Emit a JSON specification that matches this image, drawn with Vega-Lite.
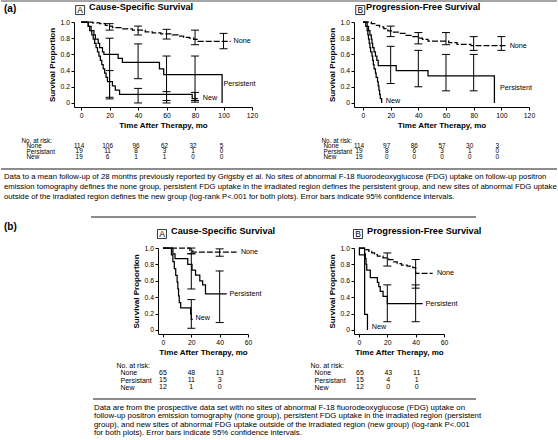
{
  "$schema": "https://vega.github.io/schema/vega-lite/v6.json",
  "padding": 0,
  "spacing": 0,
  "config": {
    "font": "Liberation Sans",
    "view": {"stroke": null},
    "concat": {"spacing": 0},
    "axis": {"labelFont": "Liberation Sans", "titleFont": "Liberation Sans", "labelFontSize": 6.8, "titleFontSize": 8, "titleFontWeight": "bold", "domainColor": "black", "tickColor": "black", "labelColor": "black", "titleColor": "black", "grid": false, "domainWidth": 1, "tickWidth": 1, "labelOverlap": false, "labelBound": false, "labelFlush": false},
    "text": {"font": "Liberation Sans", "color": "black", "fill": "black"},
    "title": {"font": "Liberation Sans", "color": "black", "anchor": "start", "frame": "group", "baseline": "alphabetic", "fontWeight": "bold"}
  },
  "datasets": {
    "curves": [
      {"panel":"aA","group":"None","t":0,"s":1},{"panel":"aA","group":"None","t":8,"s":0.99},{"panel":"aA","group":"None","t":13,"s":0.98},{"panel":"aA","group":"None","t":17,"s":0.96},{"panel":"aA","group":"None","t":20,"s":0.95},{"panel":"aA","group":"None","t":22,"s":0.93},{"panel":"aA","group":"None","t":28,"s":0.915},{"panel":"aA","group":"None","t":36,"s":0.9},{"panel":"aA","group":"None","t":45,"s":0.88},{"panel":"aA","group":"None","t":50,"s":0.865},{"panel":"aA","group":"None","t":56,"s":0.855},{"panel":"aA","group":"None","t":64,"s":0.84},{"panel":"aA","group":"None","t":68,"s":0.825},{"panel":"aA","group":"None","t":72,"s":0.81},{"panel":"aA","group":"None","t":76,"s":0.8},{"panel":"aA","group":"None","t":79,"s":0.785},{"panel":"aA","group":"None","t":82,"s":0.76},{"panel":"aA","group":"None","t":105,"s":0.76},
      {"panel":"aA","group":"Persistent","t":0,"s":1},{"panel":"aA","group":"Persistent","t":5,"s":0.947},{"panel":"aA","group":"Persistent","t":7,"s":0.895},{"panel":"aA","group":"Persistent","t":9,"s":0.842},{"panel":"aA","group":"Persistent","t":10,"s":0.789},{"panel":"aA","group":"Persistent","t":12,"s":0.737},{"panel":"aA","group":"Persistent","t":13,"s":0.684},{"panel":"aA","group":"Persistent","t":15,"s":0.632},{"panel":"aA","group":"Persistent","t":16,"s":0.6},{"panel":"aA","group":"Persistent","t":26,"s":0.55},{"panel":"aA","group":"Persistent","t":29,"s":0.5},{"panel":"aA","group":"Persistent","t":55,"s":0.42},{"panel":"aA","group":"Persistent","t":58,"s":0.35},{"panel":"aA","group":"Persistent","t":99,"s":0},
      {"panel":"aA","group":"New","t":0,"s":1},{"panel":"aA","group":"New","t":5,"s":0.947},{"panel":"aA","group":"New","t":6,"s":0.895},{"panel":"aA","group":"New","t":7.5,"s":0.842},{"panel":"aA","group":"New","t":8.5,"s":0.789},{"panel":"aA","group":"New","t":9.5,"s":0.737},{"panel":"aA","group":"New","t":10.5,"s":0.684},{"panel":"aA","group":"New","t":11.5,"s":0.632},{"panel":"aA","group":"New","t":12.5,"s":0.579},{"panel":"aA","group":"New","t":13.5,"s":0.526},{"panel":"aA","group":"New","t":14.5,"s":0.474},{"panel":"aA","group":"New","t":15.5,"s":0.421},{"panel":"aA","group":"New","t":16.5,"s":0.368},{"panel":"aA","group":"New","t":17.5,"s":0.316},{"panel":"aA","group":"New","t":18.5,"s":0.263},{"panel":"aA","group":"New","t":22,"s":0.211},{"panel":"aA","group":"New","t":24,"s":0.158},{"panel":"aA","group":"New","t":27,"s":0.105},{"panel":"aA","group":"New","t":78,"s":0.053},{"panel":"aA","group":"New","t":82,"s":0.053},
      {"panel":"aB","group":"None","t":0,"s":1},{"panel":"aB","group":"None","t":6,"s":0.98},{"panel":"aB","group":"None","t":9,"s":0.96},{"panel":"aB","group":"None","t":12,"s":0.94},{"panel":"aB","group":"None","t":15,"s":0.92},{"panel":"aB","group":"None","t":18,"s":0.89},{"panel":"aB","group":"None","t":22,"s":0.875},{"panel":"aB","group":"None","t":27,"s":0.86},{"panel":"aB","group":"None","t":31,"s":0.835},{"panel":"aB","group":"None","t":36,"s":0.82},{"panel":"aB","group":"None","t":40,"s":0.8},{"panel":"aB","group":"None","t":43,"s":0.785},{"panel":"aB","group":"None","t":47,"s":0.765},{"panel":"aB","group":"None","t":62,"s":0.745},{"panel":"aB","group":"None","t":68,"s":0.725},{"panel":"aB","group":"None","t":78,"s":0.71},{"panel":"aB","group":"None","t":103,"s":0.71},
      {"panel":"aB","group":"Persistent","t":0,"s":1},{"panel":"aB","group":"Persistent","t":3,"s":0.947},{"panel":"aB","group":"Persistent","t":4,"s":0.895},{"panel":"aB","group":"Persistent","t":5,"s":0.842},{"panel":"aB","group":"Persistent","t":6,"s":0.789},{"panel":"aB","group":"Persistent","t":6.5,"s":0.737},{"panel":"aB","group":"Persistent","t":7,"s":0.684},{"panel":"aB","group":"Persistent","t":8,"s":0.632},{"panel":"aB","group":"Persistent","t":9,"s":0.579},{"panel":"aB","group":"Persistent","t":10,"s":0.526},{"panel":"aB","group":"Persistent","t":11,"s":0.46},{"panel":"aB","group":"Persistent","t":24,"s":0.4},{"panel":"aB","group":"Persistent","t":47,"s":0.335},{"panel":"aB","group":"Persistent","t":95,"s":0},
      {"panel":"aB","group":"New","t":0,"s":1},{"panel":"aB","group":"New","t":2,"s":0.947},{"panel":"aB","group":"New","t":3,"s":0.895},{"panel":"aB","group":"New","t":3.5,"s":0.842},{"panel":"aB","group":"New","t":4,"s":0.789},{"panel":"aB","group":"New","t":4.5,"s":0.737},{"panel":"aB","group":"New","t":5,"s":0.684},{"panel":"aB","group":"New","t":5.5,"s":0.632},{"panel":"aB","group":"New","t":6.5,"s":0.579},{"panel":"aB","group":"New","t":7,"s":0.526},{"panel":"aB","group":"New","t":7.5,"s":0.474},{"panel":"aB","group":"New","t":8,"s":0.421},{"panel":"aB","group":"New","t":9,"s":0.368},{"panel":"aB","group":"New","t":9.5,"s":0.316},{"panel":"aB","group":"New","t":10.5,"s":0.263},{"panel":"aB","group":"New","t":11,"s":0.211},{"panel":"aB","group":"New","t":11.5,"s":0.158},{"panel":"aB","group":"New","t":12,"s":0.105},{"panel":"aB","group":"New","t":12.5,"s":0.053},{"panel":"aB","group":"New","t":13.5,"s":0},
      {"panel":"bA","group":"None","t":0,"s":1},{"panel":"bA","group":"None","t":19,"s":0.97},{"panel":"bA","group":"None","t":21,"s":0.95},{"panel":"bA","group":"None","t":52,"s":0.95},
      {"panel":"bA","group":"Persistent","t":0,"s":1},{"panel":"bA","group":"Persistent","t":7,"s":0.93},{"panel":"bA","group":"Persistent","t":8.5,"s":0.87},{"panel":"bA","group":"Persistent","t":17.5,"s":0.8},{"panel":"bA","group":"Persistent","t":20.5,"s":0.73},{"panel":"bA","group":"Persistent","t":23,"s":0.67},{"panel":"bA","group":"Persistent","t":26,"s":0.6},{"panel":"bA","group":"Persistent","t":28,"s":0.55},{"panel":"bA","group":"Persistent","t":30,"s":0.44},{"panel":"bA","group":"Persistent","t":45,"s":0.44},
      {"panel":"bA","group":"New","t":0,"s":1},{"panel":"bA","group":"New","t":6,"s":0.917},{"panel":"bA","group":"New","t":7,"s":0.833},{"panel":"bA","group":"New","t":8,"s":0.75},{"panel":"bA","group":"New","t":9,"s":0.667},{"panel":"bA","group":"New","t":10,"s":0.583},{"panel":"bA","group":"New","t":10.5,"s":0.5},{"panel":"bA","group":"New","t":11,"s":0.417},{"panel":"bA","group":"New","t":11.5,"s":0.333},{"panel":"bA","group":"New","t":12.5,"s":0.27},{"panel":"bA","group":"New","t":19.5,"s":0.2},{"panel":"bA","group":"New","t":20,"s":0.13},{"panel":"bA","group":"New","t":21,"s":0.13},
      {"panel":"bB","group":"None","t":0,"s":1},{"panel":"bB","group":"None","t":5,"s":0.98},{"panel":"bB","group":"None","t":7,"s":0.96},{"panel":"bB","group":"None","t":9,"s":0.94},{"panel":"bB","group":"None","t":11,"s":0.92},{"panel":"bB","group":"None","t":13,"s":0.9},{"panel":"bB","group":"None","t":17,"s":0.88},{"panel":"bB","group":"None","t":21,"s":0.86},{"panel":"bB","group":"None","t":24,"s":0.83},{"panel":"bB","group":"None","t":27,"s":0.81},{"panel":"bB","group":"None","t":30,"s":0.79},{"panel":"bB","group":"None","t":34,"s":0.78},{"panel":"bB","group":"None","t":38,"s":0.76},{"panel":"bB","group":"None","t":40,"s":0.69},{"panel":"bB","group":"None","t":52,"s":0.69},
      {"panel":"bB","group":"Persistent","t":0,"s":1},{"panel":"bB","group":"Persistent","t":4,"s":0.93},{"panel":"bB","group":"Persistent","t":4.5,"s":0.87},{"panel":"bB","group":"Persistent","t":5,"s":0.8},{"panel":"bB","group":"Persistent","t":5.5,"s":0.73},{"panel":"bB","group":"Persistent","t":8,"s":0.64},{"panel":"bB","group":"Persistent","t":13,"s":0.58},{"panel":"bB","group":"Persistent","t":14,"s":0.53},{"panel":"bB","group":"Persistent","t":15,"s":0.47},{"panel":"bB","group":"Persistent","t":17,"s":0.41},{"panel":"bB","group":"Persistent","t":20,"s":0.32},{"panel":"bB","group":"Persistent","t":45,"s":0.32},
      {"panel":"bB","group":"New","t":0,"s":1},{"panel":"bB","group":"New","t":0.3,"s":0.917},{"panel":"bB","group":"New","t":4,"s":0.19},{"panel":"bB","group":"New","t":6,"s":0}
    ],
    "bars": [
      {"panel":"aA","group":"None","t":20,"lo":0.9,"hi":0.98},{"panel":"aA","group":"None","t":40,"lo":0.84,"hi":0.95},{"panel":"aA","group":"None","t":60,"lo":0.79,"hi":0.91},{"panel":"aA","group":"None","t":80,"lo":0.72,"hi":0.9},{"panel":"aA","group":"None","t":100,"lo":0.67,"hi":0.86},
      {"panel":"aA","group":"Persistent","t":20,"lo":0.05,"hi":0.8},{"panel":"aA","group":"Persistent","t":40,"lo":0.3,"hi":0.73},{"panel":"aA","group":"Persistent","t":60,"lo":0.03,"hi":0.58},{"panel":"aA","group":"Persistent","t":80,"lo":0.03,"hi":0.58},
      {"panel":"aA","group":"New","t":20,"lo":0.07,"hi":0.4},{"panel":"aA","group":"New","t":40,"lo":0,"hi":0.18},{"panel":"aA","group":"New","t":60,"lo":0,"hi":0.14},{"panel":"aA","group":"New","t":80,"lo":0.01,"hi":0.13},
      {"panel":"aB","group":"None","t":20,"lo":0.82,"hi":0.95},{"panel":"aB","group":"None","t":40,"lo":0.73,"hi":0.87},{"panel":"aB","group":"None","t":60,"lo":0.72,"hi":0.87},{"panel":"aB","group":"None","t":80,"lo":0.65,"hi":0.82},{"panel":"aB","group":"None","t":100,"lo":0.65,"hi":0.82},
      {"panel":"aB","group":"Persistent","t":20,"lo":0.24,"hi":0.7},{"panel":"aB","group":"Persistent","t":40,"lo":0.2,"hi":0.65},{"panel":"aB","group":"Persistent","t":60,"lo":0.15,"hi":0.6},{"panel":"aB","group":"Persistent","t":80,"lo":0.15,"hi":0.6},
      {"panel":"bA","group":"None","t":20,"lo":0.93,"hi":1},{"panel":"bA","group":"None","t":40,"lo":0.9,"hi":0.99},
      {"panel":"bA","group":"Persistent","t":20,"lo":0.5,"hi":0.93},{"panel":"bA","group":"Persistent","t":40,"lo":0.09,"hi":0.72},
      {"panel":"bA","group":"New","t":20,"lo":0.02,"hi":0.37},
      {"panel":"bB","group":"None","t":20,"lo":0.78,"hi":0.94},{"panel":"bB","group":"None","t":40,"lo":0.51,"hi":0.86},
      {"panel":"bB","group":"Persistent","t":20,"lo":0.1,"hi":0.55},{"panel":"bB","group":"Persistent","t":40,"lo":0.1,"hi":0.55}
    ],
    "labels": [
      {"panel":"aA","label":"None","t":107,"s":0.76},{"panel":"aA","label":"Persistent","t":100,"s":0.235},{"panel":"aA","label":"New","t":85.5,"s":0.058},
      {"panel":"aB","label":"None","t":106,"s":0.71},{"panel":"aB","label":"Persistent","t":99,"s":0.185},{"panel":"aB","label":"New","t":16.5,"s":0.02},
      {"panel":"bA","label":"None","t":55,"s":0.95},{"panel":"bA","label":"Persistent","t":47,"s":0.44},{"panel":"bA","label":"New","t":23,"s":0.146},
      {"panel":"bB","label":"None","t":55,"s":0.69},{"panel":"bB","label":"Persistent","t":47,"s":0.32},{"panel":"bB","label":"New","t":9,"s":0.04}
    ],
    "boxes": [
      {"panel":"aA","letter":"A","t":-0.7,"s":1.148},
      {"panel":"aB","letter":"B","t":-2,"s":1.148},
      {"panel":"bA","letter":"A","t":-0.7,"s":1.171},
      {"panel":"bB","letter":"B","t":-0.7,"s":1.171}
    ],
    "risk": [
      {"panel":"aA","group":"None","t":0,"n":114},{"panel":"aA","group":"None","t":20,"n":106},{"panel":"aA","group":"None","t":40,"n":96},{"panel":"aA","group":"None","t":60,"n":62},{"panel":"aA","group":"None","t":80,"n":32},{"panel":"aA","group":"None","t":100,"n":5},
      {"panel":"aA","group":"Persistant","t":0,"n":19},{"panel":"aA","group":"Persistant","t":20,"n":11},{"panel":"aA","group":"Persistant","t":40,"n":8},{"panel":"aA","group":"Persistant","t":60,"n":3},{"panel":"aA","group":"Persistant","t":80,"n":1},{"panel":"aA","group":"Persistant","t":100,"n":0},
      {"panel":"aA","group":"New","t":0,"n":19},{"panel":"aA","group":"New","t":20,"n":6},{"panel":"aA","group":"New","t":40,"n":1},{"panel":"aA","group":"New","t":60,"n":1},{"panel":"aA","group":"New","t":80,"n":0},{"panel":"aA","group":"New","t":100,"n":0},
      {"panel":"aB","group":"None","t":0,"n":114},{"panel":"aB","group":"None","t":20,"n":97},{"panel":"aB","group":"None","t":40,"n":86},{"panel":"aB","group":"None","t":60,"n":57},{"panel":"aB","group":"None","t":80,"n":30},{"panel":"aB","group":"None","t":100,"n":3},
      {"panel":"aB","group":"Persistant","t":0,"n":19},{"panel":"aB","group":"Persistant","t":20,"n":8},{"panel":"aB","group":"Persistant","t":40,"n":6},{"panel":"aB","group":"Persistant","t":60,"n":3},{"panel":"aB","group":"Persistant","t":80,"n":1},{"panel":"aB","group":"Persistant","t":100,"n":0},
      {"panel":"aB","group":"New","t":0,"n":19},{"panel":"aB","group":"New","t":20,"n":0},{"panel":"aB","group":"New","t":40,"n":0},{"panel":"aB","group":"New","t":60,"n":0},{"panel":"aB","group":"New","t":80,"n":0},{"panel":"aB","group":"New","t":100,"n":0},
      {"panel":"bA","group":"None","t":0,"n":65},{"panel":"bA","group":"None","t":20,"n":48},{"panel":"bA","group":"None","t":40,"n":13},
      {"panel":"bA","group":"Persistant","t":0,"n":15},{"panel":"bA","group":"Persistant","t":20,"n":11},{"panel":"bA","group":"Persistant","t":40,"n":3},
      {"panel":"bA","group":"New","t":0,"n":12},{"panel":"bA","group":"New","t":20,"n":1},{"panel":"bA","group":"New","t":40,"n":0},
      {"panel":"bB","group":"None","t":0,"n":65},{"panel":"bB","group":"None","t":20,"n":43},{"panel":"bB","group":"None","t":40,"n":11},
      {"panel":"bB","group":"Persistant","t":0,"n":15},{"panel":"bB","group":"Persistant","t":20,"n":4},{"panel":"bB","group":"Persistant","t":40,"n":1},
      {"panel":"bB","group":"New","t":0,"n":12},{"panel":"bB","group":"New","t":20,"n":0},{"panel":"bB","group":"New","t":40,"n":0}
    ],
    "captionA": [
      {"line":1,"text":"Data to a mean follow-up of 28 months previously reported by Grigsby et al. No sites of abnormal F-18 fluorodeoxyglucose (FDG) uptake on follow-up positron"},
      {"line":2,"text":"emission tomography defines the none group, persistent FDG uptake in the irradiated region defines the persistent group, and new sites of abnormal FDG uptake"},
      {"line":3,"text":"outside of the irradiated region defines the new group (log-rank P<.001 for both plots).  Error bars indicate 95% confidence intervals."}
    ],
    "captionB": [
      {"line":1,"text":"Data are from the prospective data set with no sites of abnormal F-18 fluorodeoxyglucose (FDG) uptake on"},
      {"line":2,"text":"follow-up positron emission tomography (none group), persistent FDG uptake in the irradiated region (persistent"},
      {"line":3,"text":"group), and new sites of abnormal FDG uptake outside of the irradiated region (new group) (log-rank P<.001"},
      {"line":4,"text":"for both plots).  Error bars indicate 95% confidence intervals."}
    ],
    "one": [{"k":0}]
  },
  "vconcat": [
    {
      "width": 556, "height": 1.5,
      "data": {"name": "one"},
      "mark": {"type": "rule", "color": "#888", "strokeWidth": 1.5},
      "encoding": {"y": {"datum": 1, "type": "quantitative", "scale": {"domain": [0, 1], "nice": false, "zero": false}, "axis": null}}
    },
    {
      "hconcat": [
        {"width": 73, "height": 114.75, "title": {"text": "(a)", "dx": 3, "offset": 8.5, "fontSize": 10}, "data": {"name": "one"}, "mark": {"type": "point", "opacity": 0}, "encoding": {}},
        {
          "width": 178, "height": 85,
          "title": {"text": "Cause-Specific Survival", "dx": 15, "offset": -8.4, "fontSize": 9.2},
          "encoding": {"x": {"field": "t", "type": "quantitative", "scale": {"domain": [-5, 120], "nice": false, "zero": false}, "axis": {"values": [0, 20, 40, 60, 80, 100, 120], "tickCount": 20, "title": "Time After Therapy, mo", "tickSize": 3, "labelPadding": 2, "titlePadding": 3, "labelOverlap": false}}},
          "layer": [
            {"data": {"name": "curves"}, "transform": [{"filter": "datum.panel == 'aA'"}], "mark": {"type": "line", "interpolate": "step-after", "color": "black", "strokeWidth": 1.25},
             "encoding": {"y": {"field": "s", "type": "quantitative", "scale": {"domain": [-0.05, 1.0005], "nice": false, "zero": false}, "axis": {"title": "Survival Proportion", "values": [0, 0.2, 0.4, 0.6, 0.8, 1], "tickCount": 20, "labelExpr": "datum.value == 0 ? '0' : format(datum.value, '.1f')", "tickSize": 3, "labelPadding": 1.5, "titlePadding": 4, "labelOverlap": false}},
              "strokeDash": {"field": "group", "type": "nominal", "scale": {"domain": ["None", "Persistent", "New"], "range": [[6, 2], [1, 0], [1, 0]]}, "legend": null}}},
            {"data": {"name": "bars"}, "transform": [{"filter": "datum.panel == 'aA'"}], "mark": {"type": "rule", "color": "black", "strokeWidth": 1},
             "encoding": {"y": {"field": "lo", "type": "quantitative"}, "y2": {"field": "hi"}}},
            {"data": {"name": "bars"}, "transform": [{"filter": "datum.panel == 'aA'"}], "mark": {"type": "tick", "orient": "horizontal", "size": 8, "thickness": 1, "color": "black", "opacity": 1},
             "encoding": {"y": {"field": "lo", "type": "quantitative"}}},
            {"data": {"name": "bars"}, "transform": [{"filter": "datum.panel == 'aA'"}], "mark": {"type": "tick", "orient": "horizontal", "size": 8, "thickness": 1, "color": "black", "opacity": 1},
             "encoding": {"y": {"field": "hi", "type": "quantitative"}}},
            {"data": {"name": "labels"}, "transform": [{"filter": "datum.panel == 'aA'"}], "mark": {"type": "text", "align": "left", "baseline": "middle", "fontSize": 7.2, "color": "black"},
             "encoding": {"y": {"field": "s", "type": "quantitative"}, "text": {"field": "label"}}},
            {"data": {"name": "boxes"}, "transform": [{"filter": "datum.panel == 'aA'"}], "mark": {"type": "point", "shape": "square", "size": 81, "filled": false, "color": "black", "strokeWidth": 0.8, "opacity": 1},
             "encoding": {"y": {"field": "s", "type": "quantitative"}}},
            {"data": {"name": "boxes"}, "transform": [{"filter": "datum.panel == 'aA'"}], "mark": {"type": "text", "fontSize": 8.5, "baseline": "middle", "align": "center", "color": "black"},
             "encoding": {"y": {"field": "s", "type": "quantitative"}, "text": {"field": "letter"}}}
          ]
        },
        {"width": 102, "height": 10, "data": {"name": "one"}, "mark": {"type": "point", "opacity": 0}, "encoding": {}},
        {
          "width": 175, "height": 85,
          "title": {"text": "Progression-Free Survival", "dx": 12, "offset": -8.4, "fontSize": 9.2},
          "encoding": {"x": {"field": "t", "type": "quantitative", "scale": {"domain": [-6.5, 120], "nice": false, "zero": false}, "axis": {"values": [0, 20, 40, 60, 80, 100, 120], "tickCount": 20, "title": "Time After Therapy, mo", "tickSize": 3, "labelPadding": 2, "titlePadding": 3, "labelOverlap": false}}},
          "layer": [
            {"data": {"name": "curves"}, "transform": [{"filter": "datum.panel == 'aB'"}], "mark": {"type": "line", "interpolate": "step-after", "color": "black", "strokeWidth": 1.25},
             "encoding": {"y": {"field": "s", "type": "quantitative", "scale": {"domain": [-0.05, 1.0005], "nice": false, "zero": false}, "axis": {"title": "Survival Proportion", "values": [0, 0.2, 0.4, 0.6, 0.8, 1], "tickCount": 20, "labelExpr": "datum.value == 0 ? '0' : format(datum.value, '.1f')", "tickSize": 3, "labelPadding": 1.5, "titlePadding": 4, "labelOverlap": false}},
              "strokeDash": {"field": "group", "type": "nominal", "scale": {"domain": ["None", "Persistent", "New"], "range": [[6, 2], [1, 0], [1, 0]]}, "legend": null}}},
            {"data": {"name": "bars"}, "transform": [{"filter": "datum.panel == 'aB'"}], "mark": {"type": "rule", "color": "black", "strokeWidth": 1},
             "encoding": {"y": {"field": "lo", "type": "quantitative"}, "y2": {"field": "hi"}}},
            {"data": {"name": "bars"}, "transform": [{"filter": "datum.panel == 'aB'"}], "mark": {"type": "tick", "orient": "horizontal", "size": 8, "thickness": 1, "color": "black", "opacity": 1},
             "encoding": {"y": {"field": "lo", "type": "quantitative"}}},
            {"data": {"name": "bars"}, "transform": [{"filter": "datum.panel == 'aB'"}], "mark": {"type": "tick", "orient": "horizontal", "size": 8, "thickness": 1, "color": "black", "opacity": 1},
             "encoding": {"y": {"field": "hi", "type": "quantitative"}}},
            {"data": {"name": "labels"}, "transform": [{"filter": "datum.panel == 'aB'"}], "mark": {"type": "text", "align": "left", "baseline": "middle", "fontSize": 7.2, "color": "black"},
             "encoding": {"y": {"field": "s", "type": "quantitative"}, "text": {"field": "label"}}},
            {"data": {"name": "boxes"}, "transform": [{"filter": "datum.panel == 'aB'"}], "mark": {"type": "point", "shape": "square", "size": 81, "filled": false, "color": "black", "strokeWidth": 0.8, "opacity": 1},
             "encoding": {"y": {"field": "s", "type": "quantitative"}}},
            {"data": {"name": "boxes"}, "transform": [{"filter": "datum.panel == 'aB'"}], "mark": {"type": "text", "fontSize": 8.5, "baseline": "middle", "align": "center", "color": "black"},
             "encoding": {"y": {"field": "s", "type": "quantitative"}, "text": {"field": "letter"}}}
          ]
        }
      ],
      "bounds": "flush", "spacing": 0
    },
    {
      "hconcat": [
        {"width": 73, "height": 25, "data": {"name": "one"}, "mark": {"type": "point", "opacity": 0}, "encoding": {}},
        {"width": 178, "height": 16.5, "data": {"name": "risk"}, "transform": [{"filter": "datum.panel == 'aA'"}],
         "mark": {"type": "text", "fontSize": 6.4, "dx": -2, "color": "black"},
         "encoding": {"x": {"field": "t", "type": "quantitative", "scale": {"domain": [-5, 120], "nice": false, "zero": false}, "axis": null},
                      "y": {"field": "group", "type": "nominal", "sort": ["None", "Persistant", "New"], "axis": {"domain": false, "ticks": false, "tickSize": 0, "labelAlign": "left", "labelPadding": 48, "labelFontSize": 6.4, "title": "No. at risk:", "titleAngle": 0, "titleAlign": "left", "titleBaseline": "middle", "titleFontWeight": "normal", "titleFontSize": 6.4, "titleX": -53, "titleY": -3}},
                      "text": {"field": "n"}}},
        {"width": 102, "height": 5, "data": {"name": "one"}, "mark": {"type": "point", "opacity": 0}, "encoding": {}},
        {"width": 175, "height": 16.5, "data": {"name": "risk"}, "transform": [{"filter": "datum.panel == 'aB'"}],
         "mark": {"type": "text", "fontSize": 6.4, "dx": -4, "color": "black"},
         "encoding": {"x": {"field": "t", "type": "quantitative", "scale": {"domain": [-6.5, 120], "nice": false, "zero": false}, "axis": null},
                      "y": {"field": "group", "type": "nominal", "sort": ["None", "Persistant", "New"], "axis": {"domain": false, "ticks": false, "tickSize": 0, "labelAlign": "left", "labelPadding": 31, "labelFontSize": 6.4, "title": "No. at risk:", "titleAngle": 0, "titleAlign": "left", "titleBaseline": "middle", "titleFontWeight": "normal", "titleFontSize": 6.4, "titleX": -33, "titleY": -3}},
                      "text": {"field": "n"}}}
      ],
      "bounds": "flush", "spacing": 0
    },
    {
      "width": 556, "height": 45.25,
      "layer": [
        {"data": {"name": "one"}, "mark": {"type": "rule", "color": "#666", "strokeWidth": 1.3},
         "encoding": {"y": {"datum": 0, "type": "quantitative", "scale": {"domain": [0, 4.525], "reverse": true, "nice": false, "zero": false}, "axis": null}}},
        {"data": {"name": "captionA"}, "mark": {"type": "text", "align": "left", "baseline": "middle", "fontSize": 7.75, "dx": 3, "dy": -2, "color": "black"},
         "encoding": {"x": {"datum": 0, "type": "quantitative", "scale": {"domain": [0, 1], "nice": false, "zero": false}, "axis": null},
                      "y": {"field": "line", "type": "quantitative", "axis": null}, "text": {"field": "text"}}}
      ]
    },
    {
      "hconcat": [
        {"width": 90, "height": 2.2, "data": {"name": "one"}, "mark": {"type": "point", "opacity": 0}, "encoding": {}},
        {"width": 385, "height": 2.2, "data": {"name": "one"}, "mark": {"type": "rule", "color": "#666", "strokeWidth": 1.3},
         "encoding": {"y": {"datum": 1, "type": "quantitative", "scale": {"domain": [0, 1], "nice": false, "zero": false}, "axis": null}}}
      ],
      "bounds": "flush", "spacing": 0
    },
    {
      "hconcat": [
        {"width": 157, "height": 112.5, "title": {"text": "(b)", "dx": 3, "offset": 16.5, "fontSize": 10}, "data": {"name": "one"}, "mark": {"type": "point", "opacity": 0}, "encoding": {}},
        {
          "width": 90, "height": 86,
          "title": {"text": "Cause-Specific Survival", "dx": 13, "offset": -8.4, "fontSize": 9.2},
          "encoding": {"x": {"field": "t", "type": "quantitative", "scale": {"domain": [-3.5, 60], "nice": false, "zero": false}, "axis": {"values": [0, 20, 40, 60], "tickCount": 20, "title": "Time After Therapy, mo", "tickSize": 3, "labelPadding": 2, "titlePadding": 3, "labelOverlap": false}}},
          "layer": [
            {"data": {"name": "curves"}, "transform": [{"filter": "datum.panel == 'bA'"}], "mark": {"type": "line", "interpolate": "step-after", "color": "black", "strokeWidth": 1.25},
             "encoding": {"y": {"field": "s", "type": "quantitative", "scale": {"domain": [-0.05, 1.0005], "nice": false, "zero": false}, "axis": {"title": "Survival Proportion", "values": [0, 0.2, 0.4, 0.6, 0.8, 1], "tickCount": 20, "labelExpr": "datum.value == 0 ? '0' : format(datum.value, '.1f')", "tickSize": 3, "labelPadding": 1.5, "titlePadding": 4, "labelOverlap": false}},
              "strokeDash": {"field": "group", "type": "nominal", "scale": {"domain": ["None", "Persistent", "New"], "range": [[6, 2], [1, 0], [1, 0]]}, "legend": null}}},
            {"data": {"name": "bars"}, "transform": [{"filter": "datum.panel == 'bA'"}], "mark": {"type": "rule", "color": "black", "strokeWidth": 1},
             "encoding": {"y": {"field": "lo", "type": "quantitative"}, "y2": {"field": "hi"}}},
            {"data": {"name": "bars"}, "transform": [{"filter": "datum.panel == 'bA'"}], "mark": {"type": "tick", "orient": "horizontal", "size": 8, "thickness": 1, "color": "black", "opacity": 1},
             "encoding": {"y": {"field": "lo", "type": "quantitative"}}},
            {"data": {"name": "bars"}, "transform": [{"filter": "datum.panel == 'bA'"}], "mark": {"type": "tick", "orient": "horizontal", "size": 8, "thickness": 1, "color": "black", "opacity": 1},
             "encoding": {"y": {"field": "hi", "type": "quantitative"}}},
            {"data": {"name": "labels"}, "transform": [{"filter": "datum.panel == 'bA'"}], "mark": {"type": "text", "align": "left", "baseline": "middle", "fontSize": 7.2, "color": "black"},
             "encoding": {"y": {"field": "s", "type": "quantitative"}, "text": {"field": "label"}}},
            {"data": {"name": "boxes"}, "transform": [{"filter": "datum.panel == 'bA'"}], "mark": {"type": "point", "shape": "square", "size": 81, "filled": false, "color": "black", "strokeWidth": 0.8, "opacity": 1},
             "encoding": {"y": {"field": "s", "type": "quantitative"}}},
            {"data": {"name": "boxes"}, "transform": [{"filter": "datum.panel == 'bA'"}], "mark": {"type": "text", "fontSize": 8.5, "baseline": "middle", "align": "center", "color": "black"},
             "encoding": {"y": {"field": "s", "type": "quantitative"}, "text": {"field": "letter"}}}
          ]
        },
        {"width": 106, "height": 10, "data": {"name": "one"}, "mark": {"type": "point", "opacity": 0}, "encoding": {}},
        {
          "width": 90, "height": 86,
          "title": {"text": "Progression-Free Survival", "dx": 13, "offset": -8.4, "fontSize": 9.2},
          "encoding": {"x": {"field": "t", "type": "quantitative", "scale": {"domain": [-3.5, 60], "nice": false, "zero": false}, "axis": {"values": [0, 20, 40, 60], "tickCount": 20, "title": "Time After Therapy, mo", "tickSize": 3, "labelPadding": 2, "titlePadding": 3, "labelOverlap": false}}},
          "layer": [
            {"data": {"name": "curves"}, "transform": [{"filter": "datum.panel == 'bB'"}], "mark": {"type": "line", "interpolate": "step-after", "color": "black", "strokeWidth": 1.25},
             "encoding": {"y": {"field": "s", "type": "quantitative", "scale": {"domain": [-0.05, 1.0005], "nice": false, "zero": false}, "axis": {"title": "Survival Proportion", "values": [0, 0.2, 0.4, 0.6, 0.8, 1], "tickCount": 20, "labelExpr": "datum.value == 0 ? '0' : format(datum.value, '.1f')", "tickSize": 3, "labelPadding": 1.5, "titlePadding": 4, "labelOverlap": false}},
              "strokeDash": {"field": "group", "type": "nominal", "scale": {"domain": ["None", "Persistent", "New"], "range": [[6, 2], [1, 0], [1, 0]]}, "legend": null}}},
            {"data": {"name": "bars"}, "transform": [{"filter": "datum.panel == 'bB'"}], "mark": {"type": "rule", "color": "black", "strokeWidth": 1},
             "encoding": {"y": {"field": "lo", "type": "quantitative"}, "y2": {"field": "hi"}}},
            {"data": {"name": "bars"}, "transform": [{"filter": "datum.panel == 'bB'"}], "mark": {"type": "tick", "orient": "horizontal", "size": 8, "thickness": 1, "color": "black", "opacity": 1},
             "encoding": {"y": {"field": "lo", "type": "quantitative"}}},
            {"data": {"name": "bars"}, "transform": [{"filter": "datum.panel == 'bB'"}], "mark": {"type": "tick", "orient": "horizontal", "size": 8, "thickness": 1, "color": "black", "opacity": 1},
             "encoding": {"y": {"field": "hi", "type": "quantitative"}}},
            {"data": {"name": "labels"}, "transform": [{"filter": "datum.panel == 'bB'"}], "mark": {"type": "text", "align": "left", "baseline": "middle", "fontSize": 7.2, "color": "black"},
             "encoding": {"y": {"field": "s", "type": "quantitative"}, "text": {"field": "label"}}},
            {"data": {"name": "boxes"}, "transform": [{"filter": "datum.panel == 'bB'"}], "mark": {"type": "point", "shape": "square", "size": 81, "filled": false, "color": "black", "strokeWidth": 0.8, "opacity": 1},
             "encoding": {"y": {"field": "s", "type": "quantitative"}}},
            {"data": {"name": "boxes"}, "transform": [{"filter": "datum.panel == 'bB'"}], "mark": {"type": "text", "fontSize": 8.5, "baseline": "middle", "align": "center", "color": "black"},
             "encoding": {"y": {"field": "s", "type": "quantitative"}, "text": {"field": "letter"}}}
          ]
        }
      ],
      "bounds": "flush", "spacing": 0
    },
    {
      "hconcat": [
        {"width": 157, "height": 29, "data": {"name": "one"}, "mark": {"type": "point", "opacity": 0}, "encoding": {}},
        {"width": 90, "height": 22, "data": {"name": "risk"}, "transform": [{"filter": "datum.panel == 'bA'"}],
         "mark": {"type": "text", "fontSize": 7, "color": "black"},
         "encoding": {"x": {"field": "t", "type": "quantitative", "scale": {"domain": [-3.5, 60], "nice": false, "zero": false}, "axis": null},
                      "y": {"field": "group", "type": "nominal", "sort": ["None", "Persistant", "New"], "axis": {"domain": false, "ticks": false, "tickSize": 0, "labelAlign": "left", "labelPadding": 38, "labelFontSize": 7, "title": "No. at risk:", "titleAngle": 0, "titleAlign": "left", "titleBaseline": "middle", "titleFontWeight": "normal", "titleFontSize": 7, "titleX": -42, "titleY": -3.3}},
                      "text": {"field": "n"}}},
        {"width": 106, "height": 5, "data": {"name": "one"}, "mark": {"type": "point", "opacity": 0}, "encoding": {}},
        {"width": 90, "height": 22, "data": {"name": "risk"}, "transform": [{"filter": "datum.panel == 'bB'"}],
         "mark": {"type": "text", "fontSize": 7, "dx": 1, "color": "black"},
         "encoding": {"x": {"field": "t", "type": "quantitative", "scale": {"domain": [-3.5, 60], "nice": false, "zero": false}, "axis": null},
                      "y": {"field": "group", "type": "nominal", "sort": ["None", "Persistant", "New"], "axis": {"domain": false, "ticks": false, "tickSize": 0, "labelAlign": "left", "labelPadding": 40, "labelFontSize": 7, "title": "No. at risk:", "titleAngle": 0, "titleAlign": "left", "titleBaseline": "middle", "titleFontWeight": "normal", "titleFontSize": 7, "titleX": -44, "titleY": -3.3}},
                      "text": {"field": "n"}}}
      ],
      "bounds": "flush", "spacing": 0
    },
    {
      "hconcat": [
        {"width": 92, "height": 45, "data": {"name": "one"}, "mark": {"type": "point", "opacity": 0}, "encoding": {}},
        {
          "width": 383, "height": 45,
          "layer": [
            {"data": {"name": "one"}, "mark": {"type": "rule", "color": "#666", "strokeWidth": 1.3},
             "encoding": {"y": {"datum": 0, "type": "quantitative", "scale": {"domain": [0, 5.294], "reverse": true, "nice": false, "zero": false}, "axis": null}}},
            {"data": {"name": "one"}, "mark": {"type": "rule", "color": "#666", "strokeWidth": 1.3},
             "encoding": {"y": {"datum": 5.294, "type": "quantitative", "axis": null}}},
            {"data": {"name": "captionB"}, "mark": {"type": "text", "align": "left", "baseline": "middle", "fontSize": 7.85, "dx": 1, "color": "black"},
             "encoding": {"x": {"datum": 0, "type": "quantitative", "scale": {"domain": [0, 1], "nice": false, "zero": false}, "axis": null},
                          "y": {"field": "line", "type": "quantitative", "axis": null}, "text": {"field": "text"}}}
          ]
        }
      ],
      "bounds": "flush", "spacing": 0
    }
  ]
}
